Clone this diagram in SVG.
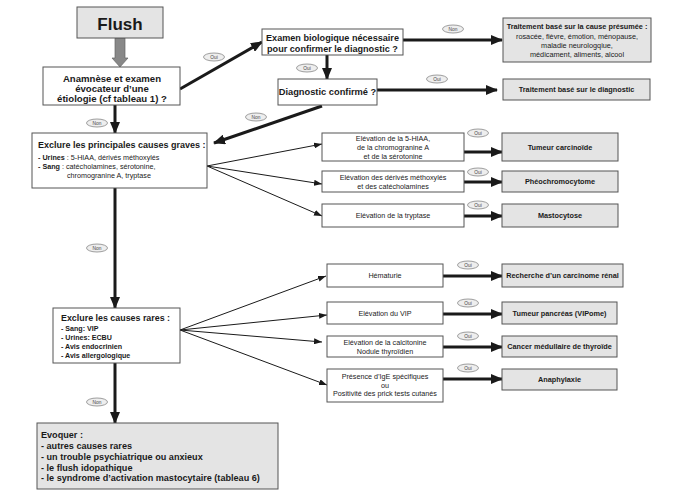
<svg xmlns="http://www.w3.org/2000/svg" width="674" height="497" viewBox="0 0 674 497">
<defs>
<marker id="ah" markerUnits="userSpaceOnUse" markerWidth="12" markerHeight="10" refX="11" refY="5" orient="auto"><path d="M0,0 L12,5 L0,10 Z" fill="#1a1a1a"/></marker>
<marker id="at" markerUnits="userSpaceOnUse" markerWidth="8" markerHeight="6" refX="8" refY="3" orient="auto"><path d="M0,0 L8,3 L0,6 Z" fill="#1a1a1a"/></marker>
</defs>
<style>
text{font-family:"Liberation Sans",Arial,sans-serif;fill:#1a1a1a}
.box{fill:#fff;stroke:#555;stroke-width:1}
.gbox{fill:#e4e4e4;stroke:#555;stroke-width:1}
.thick{stroke:#1a1a1a;stroke-width:3;fill:none;marker-end:url(#ah)}
.thin{stroke:#1a1a1a;stroke-width:1;fill:none;marker-end:url(#at)}
.lab ellipse{fill:#eee;stroke:#777;stroke-width:0.7}
.lab text{font-size:4.8px;text-anchor:middle;fill:#444}
.b{font-weight:bold}
.m{text-anchor:middle}
</style>
<rect width="674" height="497" fill="#fff"/>
<g id="connectors">
<path d="M115,38 V58 H112 L120,67 L128,58 H125 V38 Z" fill="#888" stroke="#666" stroke-width="0.7"/>
<line class="thick" x1="180" y1="89" x2="262" y2="42"/>
<line class="thick" x1="403" y1="40" x2="502" y2="40"/>
<line class="thick" x1="327" y1="55" x2="327" y2="79"/>
<line class="thick" x1="377" y1="90" x2="497" y2="90"/>
<line class="thick" x1="322" y1="106" x2="214" y2="143"/>
<line class="thick" x1="115" y1="105" x2="115" y2="133"/>
<line class="thin" x1="207" y1="166" x2="322" y2="144"/>
<line class="thin" x1="207" y1="166" x2="322" y2="184"/>
<line class="thin" x1="207" y1="166" x2="322" y2="216"/>
<line class="thick" x1="464" y1="152" x2="502" y2="152"/>
<line class="thick" x1="464" y1="182" x2="502" y2="182"/>
<line class="thick" x1="464" y1="216" x2="502" y2="216"/>
<line class="thick" x1="115" y1="188" x2="115" y2="308"/>
<line class="thin" x1="180" y1="330" x2="326" y2="276"/>
<line class="thin" x1="180" y1="330" x2="327" y2="315"/>
<line class="thin" x1="180" y1="330" x2="322" y2="342"/>
<line class="thin" x1="180" y1="330" x2="327" y2="385"/>
<line class="thick" x1="443" y1="276" x2="502" y2="276"/>
<line class="thick" x1="443" y1="314" x2="502" y2="314"/>
<line class="thick" x1="443" y1="347" x2="502" y2="347"/>
<line class="thick" x1="443" y1="379" x2="502" y2="379"/>
<line class="thick" x1="115" y1="363" x2="115" y2="423"/>
<g class="lab"><ellipse cx="214" cy="57" rx="10.5" ry="4"/><text x="214" y="58.7">Oui</text></g>
<g class="lab"><ellipse cx="453" cy="29" rx="10.5" ry="4"/><text x="453" y="30.7">Non</text></g>
<g class="lab"><ellipse cx="307" cy="68" rx="10.5" ry="4"/><text x="307" y="69.7">Oui</text></g>
<g class="lab"><ellipse cx="437" cy="79" rx="10.5" ry="4"/><text x="437" y="80.7">Oui</text></g>
<g class="lab"><ellipse cx="256" cy="117" rx="10.5" ry="4"/><text x="256" y="118.7">Non</text></g>
<g class="lab"><ellipse cx="97" cy="123" rx="10.5" ry="4"/><text x="97" y="124.7">Non</text></g>
<g class="lab"><ellipse cx="478" cy="133" rx="10.5" ry="4"/><text x="478" y="134.7">Oui</text></g>
<g class="lab"><ellipse cx="478" cy="172" rx="10.5" ry="4"/><text x="478" y="173.7">Oui</text></g>
<g class="lab"><ellipse cx="478" cy="205" rx="10.5" ry="4"/><text x="478" y="206.7">Oui</text></g>
<g class="lab"><ellipse cx="97" cy="248" rx="10.5" ry="4"/><text x="97" y="249.7">Non</text></g>
<g class="lab"><ellipse cx="468" cy="265" rx="10.5" ry="4"/><text x="468" y="266.7">Oui</text></g>
<g class="lab"><ellipse cx="468" cy="303" rx="10.5" ry="4"/><text x="468" y="304.7">Oui</text></g>
<g class="lab"><ellipse cx="468" cy="336" rx="10.5" ry="4"/><text x="468" y="337.7">Oui</text></g>
<g class="lab"><ellipse cx="468" cy="368" rx="10.5" ry="4"/><text x="468" y="369.7">Oui</text></g>
<g class="lab"><ellipse cx="97" cy="402" rx="10.5" ry="4"/><text x="97" y="403.7">Non</text></g>
</g>
<g id="flush"><rect class="gbox" x="77" y="7" width="86" height="31"/><text class="b m" x="120" y="30" font-size="17">Flush</text></g>
<g id="anamnese"><rect class="box" x="43" y="67" width="137" height="38"/>
<text class="b m" font-size="9.6"><tspan x="112" y="82">Anamnèse et examen</tspan><tspan x="112" y="92">évocateur d’une</tspan><tspan x="112" y="102">étiologie (cf tableau 1) ?</tspan></text></g>
<g id="examen"><rect class="box" x="262" y="29" width="141" height="26"/>
<text class="b m" font-size="9.1"><tspan x="332.5" y="41">Examen biologique nécessaire</tspan><tspan x="332.5" y="52">pour confirmer le diagnostic ?</tspan></text></g>
<g id="traitement-presume"><rect class="gbox" x="503" y="18" width="148" height="44"/>
<text class="m" font-size="7.3"><tspan class="b" x="577" y="29">Traitement basé sur la cause présumée :</tspan><tspan x="577" y="39">rosacée, fièvre, émotion, ménopause,</tspan><tspan x="577" y="48">maladie neurologqiue,</tspan><tspan x="577" y="57">médicament, aliments, alcool</tspan></text></g>
<g id="diagnostic"><rect class="box" x="278" y="79" width="99" height="26"/><text class="b m" x="327.5" y="95" font-size="9.3">Diagnostic confirmé ?</text></g>
<g id="traitement-diag"><rect class="gbox" x="503" y="79" width="147" height="21"/><text class="b m" x="576.5" y="92" font-size="7.3">Traitement basé sur le diagnostic</text></g>
<g id="exclure-graves"><rect class="box" x="32" y="133" width="175" height="55"/>
<text class="b" x="38" y="148" font-size="9">Exclure les principales causes graves :</text>
<text font-size="7.2"><tspan x="38" y="160"><tspan class="b">- Urines</tspan> : 5-HIAA, dérivés méthoxylés</tspan><tspan x="38" y="169"><tspan class="b">- Sang</tspan> : catécholamines, sérotonine,</tspan><tspan x="67" y="178">chromogranine A, tryptase</tspan></text></g>
<g id="elev-5hiaa"><rect class="box" x="322" y="133" width="142" height="28"/>
<text class="m" font-size="7.2"><tspan x="393" y="141">Elévation de la 5-HIAA,</tspan><tspan x="393" y="150">de la chromogranine A</tspan><tspan x="393" y="159">et de la sérotonine</tspan></text></g>
<g id="elev-methoxyles"><rect class="box" x="322" y="171" width="142" height="21"/>
<text class="m" font-size="7.2"><tspan x="393" y="180">Elévation des dérivés méthoxylés</tspan><tspan x="393" y="189">et des catécholamines</tspan></text></g>
<g id="elev-tryptase"><rect class="box" x="322" y="204" width="142" height="23"/><text class="m" x="393" y="218" font-size="7.2">Elévation de la tryptase</text></g>
<g id="tumeur-carcinoide"><rect class="gbox" x="502" y="133" width="116" height="28"/><text class="b m" x="560" y="150" font-size="7.3">Tumeur carcinoïde</text></g>
<g id="pheochromocytome"><rect class="gbox" x="502" y="171" width="116" height="21"/><text class="b m" x="560" y="184" font-size="7.3">Phéochromocytome</text></g>
<g id="mastocytose"><rect class="gbox" x="502" y="204" width="116" height="23"/><text class="b m" x="560" y="218" font-size="7.3">Mastocytose</text></g>
<g id="exclure-rares"><rect class="box" x="53" y="308" width="127" height="55"/>
<text class="b" x="61" y="321" font-size="8.9">Exclure les causes rares :</text>
<text class="b" font-size="7.1"><tspan x="61" y="331">- Sang: VIP</tspan><tspan x="61" y="340">- Urines: ECBU</tspan><tspan x="61" y="349">- Avis endocrinien</tspan><tspan x="61" y="358">- Avis allergologique</tspan></text></g>
<g id="hematurie"><rect class="box" x="327" y="264" width="116" height="23"/><text class="m" x="385" y="278" font-size="7.2">Hématurie</text></g>
<g id="elev-vip"><rect class="box" x="327" y="302" width="116" height="22"/><text class="m" x="385" y="316" font-size="7.2">Elévation du VIP</text></g>
<g id="elev-calcitonine"><rect class="box" x="327" y="336" width="116" height="21"/>
<text class="m" font-size="7.2"><tspan x="385" y="345">Elévation de la calcitonine</tspan><tspan x="385" y="354">Nodule thyroïdien</tspan></text></g>
<g id="presence-ige"><rect class="box" x="327" y="369" width="116" height="33"/>
<text class="m" font-size="7.2"><tspan x="385" y="379">Présence d’IgE spécifiques</tspan><tspan x="385" y="387.5">ou</tspan><tspan x="385" y="396">Positivité des prick tests cutanés</tspan></text></g>
<g id="carcinome-renal"><rect class="gbox" x="502" y="264" width="121" height="23"/><text class="b m" x="562.5" y="278" font-size="7.3">Recherche d’un carcinome rénal</text></g>
<g id="tumeur-pancreas"><rect class="gbox" x="502" y="302" width="115" height="22"/><text class="b m" x="559.5" y="316" font-size="7.3">Tumeur pancréas (VIPome)</text></g>
<g id="cancer-medullaire"><rect class="gbox" x="502" y="336" width="115" height="21"/><text class="b m" x="559.5" y="349" font-size="7.3">Cancer médullaire de thyroïde</text></g>
<g id="anaphylaxie"><rect class="gbox" x="502" y="369" width="115" height="21"/><text class="b m" x="559.5" y="382" font-size="7.3">Anaphylaxie</text></g>
<g id="evoquer"><rect class="gbox" x="37" y="423" width="241" height="66"/>
<text class="b" font-size="9.1"><tspan x="41" y="438">Evoquer :</tspan><tspan x="41" y="449">- autres causes rares</tspan><tspan x="41" y="459.5">- un trouble psychiatrique ou anxieux</tspan><tspan x="41" y="470.5">- le flush idopathique</tspan><tspan x="41" y="481">- le syndrome d’activation mastocytaire (tableau 6)</tspan></text></g>
</svg>
